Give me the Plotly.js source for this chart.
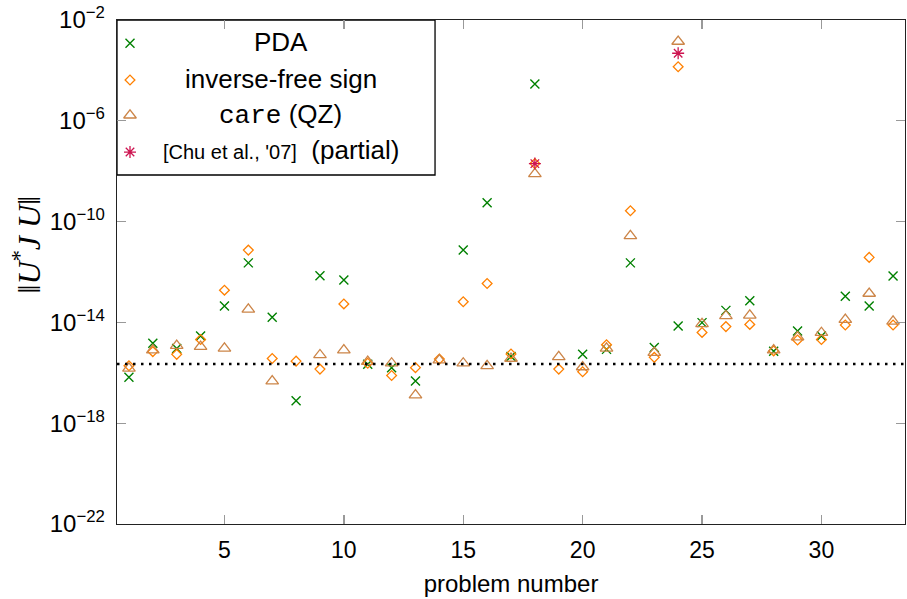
<!DOCTYPE html>
<html>
<head>
<meta charset="utf-8">
<script src="https://cdn.plot.ly/plotly-3.0.1.min.js"></script>
<style>html,body{margin:0;padding:0;background:#fff;}#chart{width:907px;height:599px;}</style>
</head>
<body>
<div id="chart"></div>
<script>
const problems = [1,2,3,4,5,6,7,8,9,10,11,12,13,14,15,16,17,18,19,20,21,22,23,24,25,26,27,28,29,30,31,32,33];

const pda = [6.6e-17,1.5e-15,9.3e-16,2.9e-15,4.5e-14,2.3e-12,1.6e-14,7.8e-18,7.1e-13,4.8e-13,
  2.2e-16,1.6e-16,4.7e-17,null,7.4e-12,5.6e-10,4.4e-16,2.9e-5,null,5.4e-16,
  8.5e-16,2.3e-12,1.0e-15,7.2e-15,9.8e-15,3.0e-14,7.2e-14,7.2e-16,4.6e-15,2.9e-15,
  1.1e-13,4.5e-14,6.9e-13];

const invFreeSign = [1.9e-16,6.9e-16,5.4e-16,2.1e-15,1.9e-13,7.4e-12,3.7e-16,2.9e-16,1.4e-16,5.4e-14,
  2.4e-16,7.8e-17,1.6e-16,3.5e-16,6.6e-14,3.5e-13,5.6e-16,2.0e-8,1.4e-16,1.1e-16,
  1.3e-15,2.7e-10,4.1e-16,1.4e-4,4.0e-15,6.8e-15,8.3e-15,7.4e-16,2.0e-15,2.1e-15,
  7.9e-15,3.8e-12,7.9e-15];

const careQZ = [1.5e-16,7.9e-16,1.2e-15,1.1e-15,9.3e-16,3.3e-14,4.7e-17,null,5.1e-16,7.9e-16,
  2.8e-16,2.4e-16,1.3e-17,3.2e-16,2.4e-16,1.9e-16,3.7e-16,7.8e-9,4.3e-16,1.7e-16,
  9.3e-16,2.7e-11,6.3e-16,1.4e-3,8.7e-15,1.8e-14,1.9e-14,7.9e-16,2.6e-15,3.9e-15,
  1.3e-14,1.4e-13,1.1e-14];

const chuProblems = [18, 24];
const chu = [2.0e-8, 4.8e-4];

const machineEps = 2.22e-16;

const yTickVals = [1e-22, 1e-18, 1e-14, 1e-10, 1e-6, 1e-2];
const yTickText = ['10<sup>\u221222</sup>','10<sup>\u221218</sup>','10<sup>\u221214</sup>','10<sup>\u221210</sup>','10<sup>\u22126</sup>','10<sup>\u22122</sup>'];
const xTickVals = [5, 10, 15, 20, 25, 30];

const legendNames = ['PDA', 'inverse-free sign', '<span style="font-family:\'Liberation Mono\'">care</span> (QZ)', '<span style="font-size:20px">[Chu et al., \'07]</span>  (partial)'];

const cGreen = 'rgb(0,128,0)';
const cOrange = 'rgb(255,128,0)';
const cBrown = 'rgb(204,133,72)';
const cStar = 'rgb(205,20,80)';

const FONT = 'Liberation Sans, DejaVu Sans, sans-serif';

const mGreen = {symbol: 'x-thin-open', size: 9, color: cGreen, line: {color: cGreen, width: 1.4}};
const mOrange = {symbol: 'diamond-open', size: 7.5, color: cOrange, line: {color: cOrange, width: 1.3}};
const mBrown = {symbol: 'triangle-up-open', size: 11, color: cBrown, line: {color: cBrown, width: 1.3}};
const mStar = {symbol: 'asterisk-open', size: 10, color: cStar, line: {color: cStar, width: 1.3}};

const traces = [
  {x: problems, y: pda, type: 'scatter', mode: 'markers', name: 'PDA', marker: mGreen},
  {x: problems, y: invFreeSign, type: 'scatter', mode: 'markers', name: 'inverse-free sign', marker: mOrange},
  {x: problems, y: careQZ, type: 'scatter', mode: 'markers', name: 'care (QZ)', marker: mBrown},
  {x: chuProblems, y: chu, type: 'scatter', mode: 'markers', name: 'Chu', marker: mStar},
  // legend sample markers on an overlay axis (0..1 box)
  {x: [0.0165], y: [0.954], xaxis: 'x2', yaxis: 'y2', mode: 'markers', type: 'scatter', marker: mGreen},
  {x: [0.0165], y: [0.881], xaxis: 'x2', yaxis: 'y2', mode: 'markers', type: 'scatter', marker: mOrange},
  {x: [0.0165], y: [0.811], xaxis: 'x2', yaxis: 'y2', mode: 'markers', type: 'scatter', marker: mBrown},
  {x: [0.0165], y: [0.738], xaxis: 'x2', yaxis: 'y2', mode: 'markers', type: 'scatter', marker: mStar}
];

const legendY = [0.956, 0.883, 0.812, 0.743];
const annotations = legendNames.map((t, i) => ({
  xref: 'paper', yref: 'paper', x: 0.208, y: legendY[i], xanchor: 'center', yanchor: 'middle',
  text: t, showarrow: false, font: {family: FONT, size: 26, color: '#000'}
}));
annotations.push({
  xref: 'paper', yref: 'paper', x: -0.114, y: 0.555, xanchor: 'center', yanchor: 'middle',
  text: '\u2016<i>U</i><sup>*</sup><i>J</i> <i>U</i>\u2016', textangle: -90, showarrow: false,
  font: {family: 'Liberation Serif, DejaVu Serif, serif', size: 32, color: '#000'}
});

const layout = {
  width: 907, height: 599,
  margin: {l: 117, r: 2, t: 20, b: 75},
  paper_bgcolor: '#fff', plot_bgcolor: '#fff',
  showlegend: false,
  font: {family: FONT, size: 22, color: '#000'},
  xaxis: {
    range: [0.5, 33.5], tickvals: xTickVals, ticks: 'inside', ticklen: 9, tickwidth: 1.3, tickcolor: '#999',
    showline: true, linecolor: '#222', linewidth: 1.3, mirror: 'ticks', showgrid: false, zeroline: false,
    tickfont: {family: FONT, size: 23}, ticklabelstandoff: 5,
    title: {text: 'problem number', font: {family: FONT, size: 24}, standoff: 13}
  },
  yaxis: {
    type: 'log', range: [-22, -2], tickvals: yTickVals, ticktext: yTickText,
    ticks: 'inside', ticklen: 9, tickwidth: 1.3, tickcolor: '#999',
    showline: true, linecolor: '#222', linewidth: 1.3, mirror: 'ticks', showgrid: false, zeroline: false,
    tickfont: {family: FONT, size: 24}, ticklabelstandoff: 6
  },
  xaxis2: {overlaying: 'x', range: [0, 1], visible: false, fixedrange: true},
  yaxis2: {overlaying: 'y', range: [0, 1], visible: false, fixedrange: true},
  shapes: [
    {type: 'line', xref: 'paper', x0: 0, x1: 1, yref: 'y', y0: machineEps, y1: machineEps,
     line: {color: '#000', width: 2.5, dash: '2.5px,5.5px'}},
    {type: 'rect', xref: 'paper', yref: 'paper', x0: 0, x1: 0.4036, y0: 0.6925, y1: 1,
     line: {color: '#000', width: 1.3}, fillcolor: '#fff', layer: 'below'}
  ],
  annotations: annotations
};

Plotly.newPlot('chart', traces, layout, {displayModeBar: false, staticPlot: true});
</script>
</body>
</html>
